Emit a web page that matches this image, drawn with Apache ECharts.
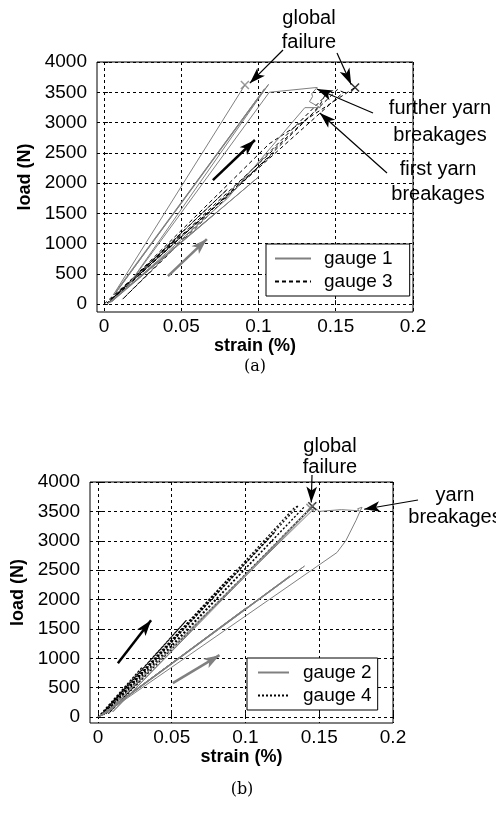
<!DOCTYPE html>
<html lang="en">
<head>
<meta charset="UTF-8">
<title>load vs strain</title>
<script src="https://cdn.jsdelivr.net/npm/echarts@6.0.0/dist/echarts.min.js"></script>
<style>html,body{margin:0;padding:0;background:#fff;}</style>
</head>
<body>
<div id="chart" style="width:496px;height:815px;"></div>
<script>
// tick values
var xTicks = [0, 0.05, 0.1, 0.15, 0.2];
var yTicks = [0, 500, 1000, 1500, 2000, 2500, 3000, 3500, 4000];

// (a) gauge 1 - grey solid
var g1Strain = [0.002, 0.045, 0.003, 0.072, 0.004, 0.100, 0.005, 0.080, 0.130, 0.140, 0.133, 0.135, 0.1345, 0.138, 0.107, 0.014, 0.1065, 0.008, 0.104, 0.006, 0.0912];
var g1Load   = [0,     900,   20,    1500,  30,    2100,  40,    1750,  3246,  3246,  3345,  3428,  3478,   3580,  3500,  250,   3630,   200,   3560,  150,   3620];

// (a) gauge 3 - black dashed
var g3Strain = [0, 0.050, 0.002, 0.080, 0.003, 0.110, 0.004, 0.135, 0.140, 0.143, 0.145, 0.012, 0.151, 0.155, 0.004, 0.107, 0.1625];
var g3Load   = [0, 1150,  20,    1900,  30,    2500,  40,    3150,  3300,  3450,  3480,  80,    3544,  3500,  60,    2650,  3580];

// (b) gauge 2 - grey solid
var g2Strain = [0, 0.060, 0.001, 0.100, 0.002, 0.120, 0.001, 0.130, 0.002, 0.140, 0.003, 0.162, 0.168, 0.172, 0.175, 0.178, 0.179, 0.176, 0.177, 0.165, 0.150, 0.147, 0.006, 0.146, 0.010, 0.1453];
var g2Load   = [0, 1100,  10,    1850,  20,    2210,  10,    2400,  20,    2570,  30,    2800,  3000,  3200,  3350,  3520,  3570,  3545,  3510,  3530,  3500,  3560,  80,    3580,  90,    3600];

// (b) gauge 4 - black dotted
var g4Strain = [0, 0.030, 0.001, 0.060, 0.002, 0.090, 0.003, 0.120, 0.004, 0.133, 0.136, 0.005, 0.140, 0.007, 0.1453];
var g4Load   = [0, 850,   10,    1650,  20,    2400,  30,    3150,  40,    3560,  3600,  50,    3580,  60,    3587];

// failure marks [strain, load]
var failA = [[0.0912, 3620], [0.1625, 3580]];
var failB = [[0.1453, 3587], [0.1440, 3560]];

// loading-direction arrows [from, to]
var arrowsA = [[[0.0414, 463], [0.0666, 1074]], [[0.0705, 2050], [0.0977, 2711]]];
var arrowsB = [[[0.0507, 578], [0.0824, 1054]], [[0.0135, 918], [0.036, 1649]]];

// annotation targets
var tipsA = [[0.0944, 3650], [0.1600, 3630], [0.1378, 3554], [0.1397, 3157]];
var tipsB = [[0.1446, 3650], [0.1804, 3536]];

var FONT = 'Liberation Sans, Arial, sans-serif';
var GREY = '#808080';

function zip(xs, ys) {
  return xs.map(function (x, i) { return [x, ys[i]]; });
}

function xAxis(grid, min) {
  return {
    type: 'value', gridIndex: grid, min: min, max: 0.2,
    axisLine: {show: false},
    axisTick: {show: true, inside: true, length: 4, customValues: xTicks, lineStyle: {color: '#000'}},
    axisLabel: {customValues: xTicks, color: '#000', fontSize: 19, fontFamily: FONT, margin: 5,
      formatter: function (v) { return String(v); }},
    splitLine: {show: true, lineStyle: {color: '#000', type: [3, 3], width: 1}},
    name: 'strain (%)', nameLocation: 'middle', nameGap: 23,
    nameTextStyle: {color: '#000', fontSize: 18, fontWeight: 'bold', fontFamily: FONT}
  };
}
function yAxis(grid, min) {
  return {
    type: 'value', gridIndex: grid, min: min, max: 4000,
    axisLine: {show: false},
    axisTick: {show: true, inside: true, length: 4, customValues: yTicks, lineStyle: {color: '#000'}},
    axisLabel: {customValues: yTicks, color: '#000', fontSize: 19, fontFamily: FONT, margin: 10,
      formatter: function (v) { return String(v); }},
    splitLine: {show: true, lineStyle: {color: '#000', type: [3, 3], width: 1}},
    name: 'load (N)', nameLocation: 'middle', nameGap: 62,
    nameTextStyle: {color: '#000', fontSize: 18, fontWeight: 'bold', fontFamily: FONT, padding: [0, 0, 0, 20]}
  };
}

function arrowLines(list, colors) {
  return list.map(function (a, i) {
    return [{coord: a[0], lineStyle: {color: colors[i], width: 2.5, type: 'solid'}, symbolSize: [9, 14]}, {coord: a[1]}];
  });
}
function noteLine(px, tip) {
  return [{x: px[0], y: px[1], lineStyle: {color: '#000', width: 1.2, type: 'solid'}, symbolSize: [7, 11]}, {coord: tip}];
}

var chart = echarts.init(document.getElementById('chart'), null, {renderer: 'canvas'});

var legendBase = {
  orient: 'vertical', itemGap: 4, itemHeight: 14, borderColor: '#000', borderWidth: 1,
  backgroundColor: '#fff', itemStyle: {opacity: 0}
};

var option = {
  backgroundColor: '#fff',
  animation: false,
  grid: [
    {left: 97, top: 62, width: 316, height: 250, show: true, borderColor: '#000', borderWidth: 1, backgroundColor: '#fff', outerBoundsMode: 'none'},
    {left: 90, top: 482, width: 303, height: 241, show: true, borderColor: '#000', borderWidth: 1, backgroundColor: '#fff', outerBoundsMode: 'none'}
  ],
  xAxis: [xAxis(0, -0.0045), xAxis(1, -0.0054)],
  yAxis: [yAxis(0, -130), yAxis(1, -100)],
  legend: [
    Object.assign({data: ['gauge 1', 'gauge 3'], left: 266, top: 244, itemWidth: 36, padding: [5, 17, 5, 8],
      textStyle: {fontSize: 19, color: '#000', fontFamily: FONT, padding: [0, 0, 0, 8]}}, legendBase),
    Object.assign({data: ['gauge 2', 'gauge 4'], left: 247, top: 658, itemWidth: 31, padding: [5, 6, 5, 10],
      textStyle: {fontSize: 19, color: '#000', fontFamily: FONT, padding: [0, 0, 0, 9]}}, legendBase)
  ],
  series: [
    {name: 'gauge 1', type: 'line', xAxisIndex: 0, yAxisIndex: 0, symbol: 'none', z: 3,
      lineStyle: {color: GREY, width: 1}, itemStyle: {color: GREY},
      data: zip(g1Strain, g1Load),
      markLine: {silent: true, animation: false, symbol: ['none', 'arrow'], label: {show: false},
        data: arrowLines(arrowsA, [GREY, '#000']).concat([
          noteLine([283, 50], tipsA[0]), noteLine([337, 53], tipsA[1]),
          noteLine([373, 113], tipsA[2]), noteLine([387, 173], tipsA[3])
        ])}},
    {name: 'gauge 3', type: 'line', xAxisIndex: 0, yAxisIndex: 0, symbol: 'none', z: 2,
      lineStyle: {color: '#000', width: 1, type: [4, 3]}, itemStyle: {color: '#000'},
      data: zip(g3Strain, g3Load)},
    {name: 'failA', type: 'scatter', xAxisIndex: 0, yAxisIndex: 0, symbol: 'path://M0,0L10,10M10,0L0,10', symbolSize: 8, z: 4,
      data: failA.map(function (p, i) {
        return {value: p, itemStyle: {color: 'transparent', borderColor: i === 0 ? GREY : '#000', borderWidth: 1.5}};
      })},
    {name: 'gauge 2', type: 'line', xAxisIndex: 1, yAxisIndex: 1, symbol: 'none', z: 3,
      lineStyle: {color: GREY, width: 1}, itemStyle: {color: GREY},
      data: zip(g2Strain, g2Load),
      markLine: {silent: true, animation: false, symbol: ['none', 'arrow'], label: {show: false},
        data: arrowLines(arrowsB, [GREY, '#000']).concat([
          noteLine([312, 475], tipsB[0]), noteLine([418, 500], tipsB[1])
        ])}},
    {name: 'gauge 4', type: 'line', xAxisIndex: 1, yAxisIndex: 1, symbol: 'none', z: 2,
      lineStyle: {color: '#000', width: 1.2, type: [2, 2]}, itemStyle: {color: '#000'},
      data: zip(g4Strain, g4Load)},
    {name: 'failB', type: 'scatter', xAxisIndex: 1, yAxisIndex: 1, symbol: 'path://M0,0L10,10M10,0L0,10', symbolSize: 8, z: 4,
      data: failB.map(function (p, i) {
        return {value: p, itemStyle: {color: 'transparent', borderColor: i === 0 ? '#000' : GREY, borderWidth: 1.5}};
      })}
  ],
  graphic: [
    {type: 'text', style: {text: 'global\nfailure', x: 309, y: 30, align: 'center', verticalAlign: 'middle', fontSize: 20, lineHeight: 24, fontFamily: FONT, fill: '#000'}},
    {type: 'text', style: {text: 'further yarn\nbreakages', x: 440, y: 122, align: 'center', verticalAlign: 'middle', fontSize: 20, lineHeight: 27, fontFamily: FONT, fill: '#000'}},
    {type: 'text', style: {text: 'first yarn\nbreakages', x: 438, y: 182, align: 'center', verticalAlign: 'middle', fontSize: 20, lineHeight: 25, fontFamily: FONT, fill: '#000'}},
    {type: 'text', style: {text: 'global\nfailure', x: 330, y: 457, align: 'center', verticalAlign: 'middle', fontSize: 20, lineHeight: 21, fontFamily: FONT, fill: '#000'}},
    {type: 'text', style: {text: 'yarn\nbreakages', x: 455, y: 506, align: 'center', verticalAlign: 'middle', fontSize: 20, lineHeight: 22, fontFamily: FONT, fill: '#000'}},
    {type: 'text', style: {text: '(a)', x: 255, y: 367, align: 'center', verticalAlign: 'middle', fontSize: 16, fontFamily: 'DejaVu Serif, Liberation Serif, serif', fill: '#000'}},
    {type: 'text', style: {text: '(b)', x: 242, y: 790, align: 'center', verticalAlign: 'middle', fontSize: 16, fontFamily: 'DejaVu Serif, Liberation Serif, serif', fill: '#000'}}
  ]
};

chart.setOption(option);
</script>
</body>
</html>
